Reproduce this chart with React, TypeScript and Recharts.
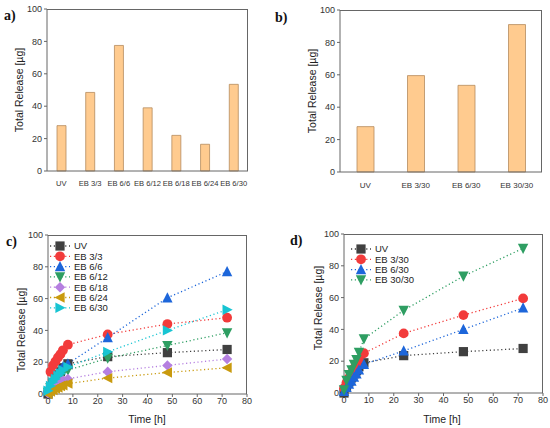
import React from "react";
import {
  BarChart,
  Bar,
  LineChart,
  Line,
  XAxis,
  YAxis,
} from "recharts";

// panel a / b bars
const catsA = ["UV", "EB 3/3", "EB 6/6", "EB 6/12", "EB 6/18", "EB 6/24", "EB 6/30"];
const valsA = [28, 48.5, 77.5, 39, 22, 16.5, 53.5];
const catsB = ["UV", "EB 3/30", "EB 6/30", "EB 30/30"];
const valsB = [28, 59.5, 53.5, 91];

// panel c / d release curves
const times = [0, 1, 2, 3, 4, 5, 6, 8, 24, 48, 72];
const uv = [0, 4, 7, 9.5, 12, 14, 16.5, 19, 23.5, 26, 28];
const eb3_3 = [null, 14, 18, 20.5, 23, 25, 27.5, 31, 37.5, 44, 48];
const eb6_6 = [3, 7, 9, 11, 13, 15, 17, 19, 35.5, 60.5, 77];
const eb6_12 = [1, 4, 6, 8, 10, 12, 13.5, 15, 22.5, 30.5, 38.5];
const eb6_18 = [0.5, 3, 4.5, 5.5, 6.5, 7.5, 8.5, 9.5, 14, 18, 22];
const eb6_24 = [0, 1.5, 2.5, 3.5, 4, 5, 5.5, 6.5, 10, 13.5, 16.5];
const eb6_30 = [2, 5, 7.5, 9.5, 11.5, 13, 15, 17, 26.5, 40, 53];
const eb3_30 = [3, 6.5, 9.5, 12.5, 15.5, 18.5, 21, 25, 37.5, 49, 59.5];
const eb6_30d = [1, 3.5, 5.5, 7.5, 10, 12, 14.5, 18, 26.5, 40, 53.5];
const eb30_30 = [2, 8, 11.5, 14.5, 18, 21, 25.5, 34, 52, 73.5, 91];

const yTicks = [0, 20, 40, 60, 80, 100];
const xTicks = [0, 10, 20, 30, 40, 50, 60, 70, 80];

const seriesC = [
  { key: "UV", values: uv, color: "#404040", shape: "square" },
  { key: "EB 3/3", values: eb3_3, color: "#F23B3B", shape: "circle" },
  { key: "EB 6/6", values: eb6_6, color: "#1D66DA", shape: "up" },
  { key: "EB 6/12", values: eb6_12, color: "#2E9E62", shape: "down" },
  { key: "EB 6/18", values: eb6_18, color: "#B57FE0", shape: "diamond" },
  { key: "EB 6/24", values: eb6_24, color: "#C99A0E", shape: "left" },
  { key: "EB 6/30", values: eb6_30, color: "#17C4D2", shape: "right" },
];

const seriesD = [
  { key: "UV", values: uv, color: "#404040", shape: "square" },
  { key: "EB 3/30", values: eb3_30, color: "#F23B3B", shape: "circle" },
  { key: "EB 6/30", values: eb6_30d, color: "#1D66DA", shape: "up" },
  { key: "EB 30/30", values: eb30_30, color: "#2E9E62", shape: "down" },
];

const barFill = "#FFCB8F";
const barStroke = "#B58B5E";
const axisColor = "#666";
const tickStyle = { fill: "#333", fontSize: 9, fontFamily: "Liberation Sans" };
const Y_W = 30;

const Marker = ({ cx, cy, color, shape }: any) => {
  if (cx == null || cy == null || isNaN(cy)) return null;
  const s = 4.6;
  let el;
  if (shape === "square") el = <rect x={cx - s} y={cy - s} width={2 * s} height={2 * s} fill={color} />;
  else if (shape === "circle") el = <circle cx={cx} cy={cy} r={s + 0.3} fill={color} />;
  else if (shape === "up") el = <polygon points={`${cx},${cy - s - 1} ${cx - s - 0.6},${cy + s} ${cx + s + 0.6},${cy + s}`} fill={color} />;
  else if (shape === "down") el = <polygon points={`${cx},${cy + s + 1} ${cx - s - 0.6},${cy - s} ${cx + s + 0.6},${cy - s}`} fill={color} />;
  else if (shape === "diamond") el = <polygon points={`${cx},${cy - s - 0.6} ${cx + s + 0.6},${cy} ${cx},${cy + s + 0.6} ${cx - s - 0.6},${cy}`} fill={color} />;
  else if (shape === "left") el = <polygon points={`${cx - s - 1},${cy} ${cx + s},${cy - s - 0.6} ${cx + s},${cy + s + 0.6}`} fill={color} />;
  else el = <polygon points={`${cx + s + 1},${cy} ${cx - s},${cy - s - 0.6} ${cx - s},${cy + s + 0.6}`} fill={color} />;
  return <g>{el}</g>;
};

// legend drawn beside the chart, built from the same series list
const SeriesLegend = ({ series, left, top }: any) => (
  <svg width={80} height={series.length * 10.3 + 4} style={{ position: "absolute", left, top }}>
    {series.map((s: any, i: number) => {
      const y = 6 + i * 10.3;
      return (
        <g key={s.key}>
          <line x1={0} x2={20} y1={y} y2={y} stroke={s.color} strokeWidth={1.3} strokeDasharray="1.2 2.6" />
          <Marker cx={10} cy={y} color={s.color} shape={s.shape} />
          <text x={24} y={y + 3.3} fontSize={9.5} fontFamily="Liberation Sans" fill="#222">{s.key}</text>
        </g>
      );
    })}
  </svg>
);

// a plain frame box sized by the same margins the chart uses
const frameStyle = (w: number, h: number, margin: any, xh: number): React.CSSProperties => ({
  position: "absolute",
  left: margin.left + Y_W,
  top: margin.top,
  width: w - margin.left - Y_W - margin.right,
  height: h - margin.top - margin.bottom - xh,
  boxSizing: "border-box",
  borderTop: `1px solid ${axisColor}`,
  borderRight: `1px solid ${axisColor}`,
  pointerEvents: "none",
});

const BarPanel = ({ cats, vals, left, top, margin, barSize, tickFont }: any) => {
  const data = cats.map((c: string, i: number) => ({ name: c, value: vals[i] }));
  return (
    <div style={{ position: "absolute", left, top, width: 275, height: 210 }}>
      <div style={frameStyle(275, 210, margin, 20)} />
      <BarChart width={275} height={210} data={data} margin={margin}>
        <XAxis dataKey="name" stroke={axisColor} tickLine={false} interval={0}
          tick={{ ...tickStyle, fontSize: tickFont }} height={20} tickMargin={4} />
        <YAxis domain={[0, 100]} ticks={yTicks} stroke={axisColor} tick={tickStyle} width={Y_W}
          tickSize={3} tickMargin={2} />
        <Bar dataKey="value" fill={barFill} stroke={barStroke} strokeWidth={0.8} barSize={barSize} isAnimationActive={false} />
      </BarChart>
    </div>
  );
};

const LinePanel = ({ series, left, top, margin, legendPos }: any) => {
  const data = times.map((t, i) => {
    const row: any = { t };
    series.forEach((s: any) => { row[s.key] = s.values[i]; });
    return row;
  });
  return (
    <div style={{ position: "absolute", left, top, width: 275, height: 218 }}>
      <div style={frameStyle(275, 218, margin, 16)} />
      <LineChart width={275} height={218} data={data} margin={margin}>
        <XAxis dataKey="t" type="number" domain={[0, 80]} ticks={xTicks} stroke={axisColor}
          tick={tickStyle} height={16} tickSize={3} tickMargin={1} />
        <YAxis domain={[0, 100]} ticks={yTicks} stroke={axisColor} tick={tickStyle} width={Y_W} tickSize={3} tickMargin={2} />
        {series.map((s: any) => (
          <Line key={s.key} dataKey={s.key} stroke={s.color} strokeWidth={1.3} strokeDasharray="1.2 2.6"
            dot={(p: any) => <Marker key={`${s.key}-${p.index}`} cx={p.cx} cy={p.cy} color={s.color} shape={s.shape} />}
            activeDot={false} isAnimationActive={false} />
        ))}
      </LineChart>
      <SeriesLegend series={series} left={legendPos[0]} top={legendPos[1]} />
    </div>
  );
};

const Labels = () => (
  <svg width={550} height={428} style={{ position: "absolute", left: 0, top: 0, pointerEvents: "none" }}>
    <g fontFamily="Liberation Serif" fontWeight="bold" fontSize={14} fill="#111">
      <text x={4} y={20}>a)</text>
      <text x={275} y={22}>b)</text>
      <text x={6} y={246}>c)</text>
      <text x={290} y={245}>d)</text>
    </g>
    <g fontFamily="Liberation Sans" fontSize={10.5} fill="#222" textAnchor="middle">
      <text transform="translate(23,90) rotate(-90)">Total Release [µg]</text>
      <text transform="translate(316,91) rotate(-90)">Total Release [µg]</text>
      <text transform="translate(25,330) rotate(-90)">Total Release [µg]</text>
      <text transform="translate(322,308) rotate(-90)">Total Release [µg]</text>
      <text x={147} y={423}>Time [h]</text>
      <text x={442} y={423}>Time [h]</text>
    </g>
  </svg>
);

export default function App() {
  return (
    <div style={{ position: "absolute", left: 0, top: 0, width: 550, height: 428, background: "#fff" }}>
      <BarPanel cats={catsA} vals={valsA} left={0} top={0} barSize={9} tickFont={7.6}
        margin={{ top: 9, right: 27, left: 17, bottom: 19 }} />
      <BarPanel cats={catsB} vals={valsB} left={275} top={0} barSize={17} tickFont={8}
        margin={{ top: 10, right: 8, left: 35, bottom: 18 }} />
      <LinePanel series={seriesC} left={0} top={210} legendPos={[50, 30]}
        margin={{ top: 25, right: 28, left: 18, bottom: 18 }} />
      <LinePanel series={seriesD} left={275} top={210} legendPos={[76, 33]}
        margin={{ top: 24, right: 7, left: 39, bottom: 19 }} />
      <Labels />
    </div>
  );
}
